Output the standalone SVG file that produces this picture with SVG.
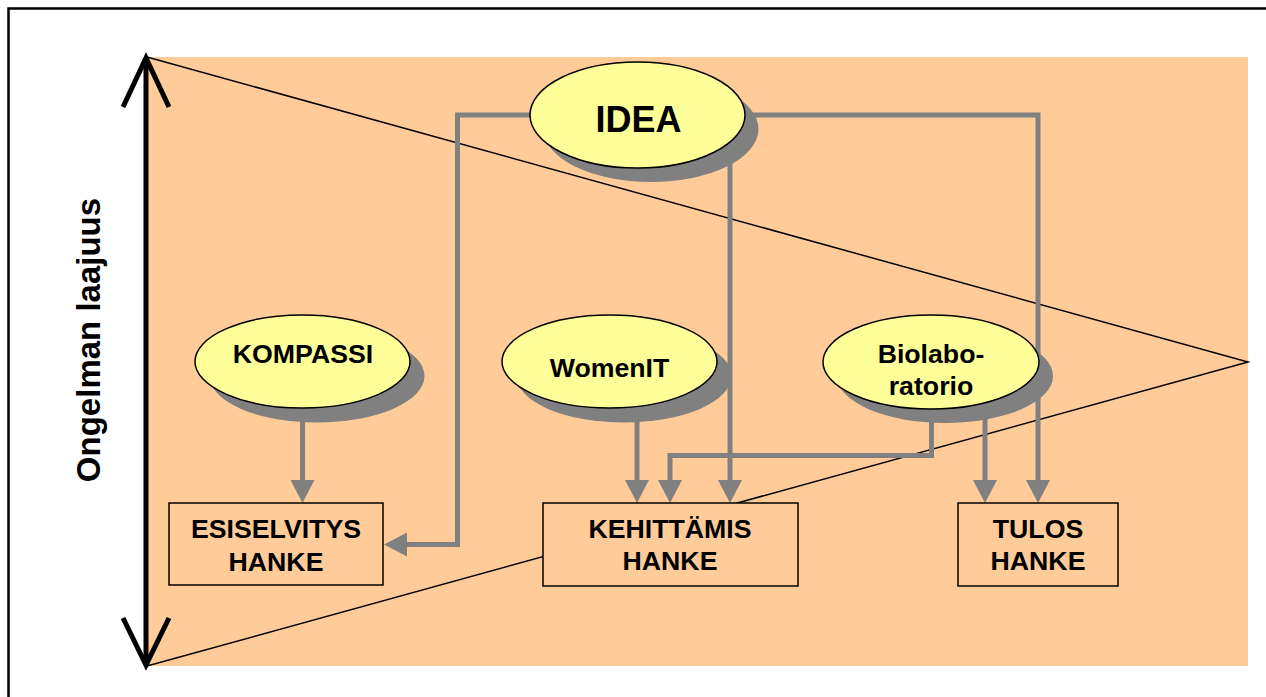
<svg xmlns="http://www.w3.org/2000/svg" width="1266" height="697" viewBox="0 0 1266 697">
<defs>
<style>
.lbl{font-family:"Liberation Sans",Arial,sans-serif;font-weight:bold;fill:#000;text-anchor:middle}
.ell{fill:#FFFF99;stroke:#000;stroke-width:1.5}
.shd{fill:#808080}
.box{fill:#FFCC99;stroke:#000;stroke-width:1.5}
.con{fill:none;stroke:#808080;stroke-width:5;marker-end:url(#ah)}
</style>
<marker id="ah" viewBox="0 0 23 24" refX="13" refY="12" markerWidth="23" markerHeight="24" markerUnits="userSpaceOnUse" orient="auto">
<path d="M0,0 L23,12 L0,24 Z" fill="#808080"/>
</marker>
</defs>
<rect x="0" y="0" width="1266" height="697" fill="#fff"/>
<rect x="8.5" y="8.5" width="1280" height="720" fill="none" stroke="#000" stroke-width="2.5"/>
<rect x="147" y="57" width="1101" height="609" fill="#FFCC99"/>
<g id="triangle">
<polyline points="147,57 1248,362 147,666" fill="none" stroke="#000" stroke-width="1.5"/>
</g>
<g id="axis">
<line x1="146" y1="60" x2="146" y2="663" stroke="#000" stroke-width="5"/>
<polyline points="123,107 146,58 169,107" fill="none" stroke="#000" stroke-width="5"/>
<polyline points="123,618 146,665 169,618" fill="none" stroke="#000" stroke-width="5"/>
<text class="lbl" x="0" y="0" font-size="33" transform="translate(100,340) rotate(-90)">Ongelman laajuus</text>
</g>
<g id="connectors">
<path class="con" d="M530,115 H457.5 V544.5 H394"/>
<path class="con" d="M745,115 H1038 V493"/>
<path class="con" d="M730,140 V493"/>
<path class="con" d="M302.5,418 V493"/>
<path class="con" d="M637,418 V493"/>
<path class="con" d="M931.5,418 V455.5 H670 V493"/>
<path class="con" d="M985,418 V493"/>
</g>
<g id="idea">
<ellipse class="shd" cx="651" cy="129" rx="107.5" ry="53"/>
<ellipse class="ell" cx="637.5" cy="115" rx="107.5" ry="53"/>
<text class="lbl" x="638.5" y="132" font-size="36">IDEA</text>
</g>
<g id="kompassi">
<ellipse class="shd" cx="317" cy="376" rx="107.5" ry="46.5"/>
<ellipse class="ell" cx="302.5" cy="361.5" rx="107.5" ry="46.5"/>
<text class="lbl" x="303" y="363" font-size="26.7">KOMPASSI</text>
</g>
<g id="womenit">
<ellipse class="shd" cx="624" cy="376" rx="107.5" ry="46.5"/>
<ellipse class="ell" cx="609.5" cy="361.5" rx="107.5" ry="46.5"/>
<text class="lbl" x="609.5" y="377" font-size="26.7">WomenIT</text>
</g>
<g id="biolaboratorio">
<ellipse class="shd" cx="945" cy="376" rx="108" ry="47"/>
<ellipse class="ell" cx="931" cy="362" rx="108" ry="47"/>
<text class="lbl" x="931" y="363" font-size="26.7">Biolabo-</text>
<text class="lbl" x="931" y="395" font-size="26.7">ratorio</text>
</g>
<g id="esiselvitys">
<rect class="box" x="169" y="503" width="214" height="82"/>
<text class="lbl" x="276" y="538" font-size="26.7">ESISELVITYS</text>
<text class="lbl" x="276" y="571" font-size="26.7">HANKE</text>
</g>
<g id="kehittamis">
<rect class="box" x="543" y="503" width="255" height="83"/>
<text class="lbl" x="670" y="538" font-size="26.7">KEHITTÄMIS</text>
<text class="lbl" x="670" y="570" font-size="26.7">HANKE</text>
</g>
<g id="tulos">
<rect class="box" x="958" y="503" width="160" height="83"/>
<text class="lbl" x="1038" y="538" font-size="26.7">TULOS</text>
<text class="lbl" x="1038" y="570" font-size="26.7">HANKE</text>
</g>
</svg>
